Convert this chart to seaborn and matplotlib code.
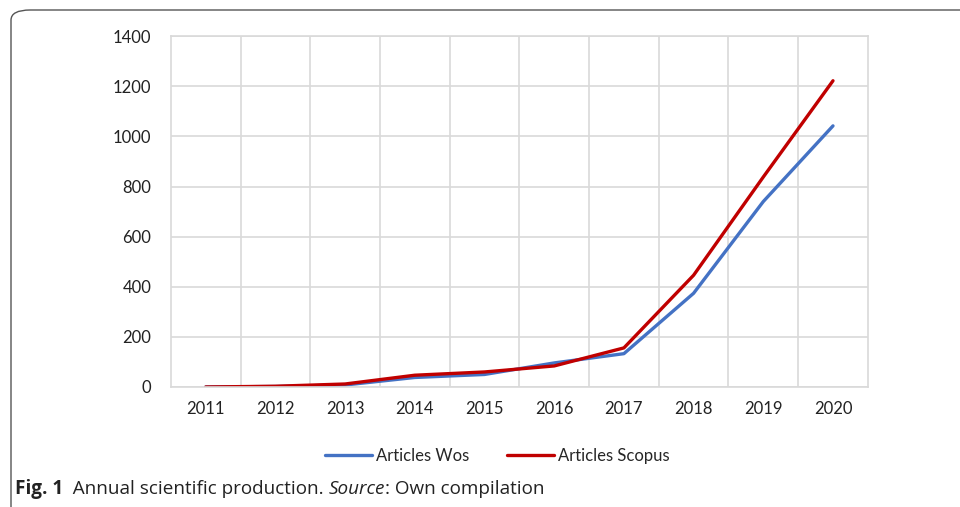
import matplotlib
matplotlib.use('Agg')
import matplotlib.pyplot as plt
from matplotlib.patches import FancyBboxPatch
from matplotlib.lines import Line2D
import seaborn as sns
import pandas as pd

years = [2011, 2012, 2013, 2014, 2015, 2016, 2017, 2018, 2019, 2020]
wos = [0, 2, 8, 38, 50, 96, 133, 374, 740, 1042]
scopus = [0, 3, 12, 47, 60, 84, 156, 446, 838, 1222]
series_names = ['Articles Wos', 'Articles Scopus']
colors = ['#4472C4', '#C00000']

df = pd.DataFrame({
    'year': years * 2,
    'value': wos + scopus,
    'series': [series_names[0]] * len(years) + [series_names[1]] * len(years),
})

sns.set_style('white')
plt.rcParams['font.family'] = ['Lato', 'DejaVu Sans']

fig = plt.figure(figsize=(9.6, 5.07), dpi=100)
ax = fig.add_axes([0.178, 0.2367, 0.726, 0.692])

sns.lineplot(data=df, x='year', y='value', hue='series', palette=colors,
             linewidth=2.4, ax=ax, legend=False)

grid_c = '#d9d9d9'
ax.set_xlim(2010.5, 2020.5)
ax.set_ylim(0, 1400)
ax.set_yticks(range(0, 1401, 200))
ax.set_xticks(years)
ax.set_xticklabels([str(y) for y in years])
ax.set_xticks([y + 0.5 for y in years[:-1]], minor=True)
ax.grid(False)
ax.yaxis.grid(True, color=grid_c, linewidth=1.2)
ax.xaxis.grid(True, which='minor', color=grid_c, linewidth=1.2)
for s in ax.spines.values():
    s.set_color(grid_c)
    s.set_linewidth(1.2)
ax.tick_params(axis='both', which='both', length=0, labelsize=12, colors='#222222')
ax.tick_params(axis='y', pad=14)
ax.tick_params(axis='x', pad=10)
ax.set_xlabel('')
ax.set_ylabel('')

# legend below the plot
handles = [Line2D([], [], color=c, linewidth=2.4) for c in colors]
fig.legend(handles, series_names, loc='center', bbox_to_anchor=(0.518, 0.101),
           ncol=2, frameon=False, fontsize=12, handlelength=2.8,
           handletextpad=0.25, columnspacing=2.3)

# rounded frame around the figure
frame = FancyBboxPatch((11 / 960, -0.2), 1.2, 1.2 - 10 / 507,
                       boxstyle='round,pad=0,rounding_size=0.02',
                       transform=fig.transFigure, fill=False,
                       edgecolor='#555555', linewidth=1.0)
fig.patches.append(frame)

# caption
fig.canvas.draw()
r = fig.canvas.get_renderer()
cap_y = 1 - 489 / 507
x = 15 / 960
parts = [('Fig. 1', 'bold', 'normal'), ('  Annual scientific production. ', 'normal', 'normal'),
         ('Source', 'normal', 'italic'), (': Own compilation', 'normal', 'normal')]
for txt, w, st in parts:
    t = fig.text(x, cap_y, txt, fontsize=13.6, fontweight=w, fontstyle=st,
                 family=['Open Sans', 'DejaVu Sans'], va='center', ha='left', color='#222222')
    bb = t.get_window_extent(renderer=r)
    x += bb.width / fig.bbox.width

fig.savefig('out.png', dpi=100)
